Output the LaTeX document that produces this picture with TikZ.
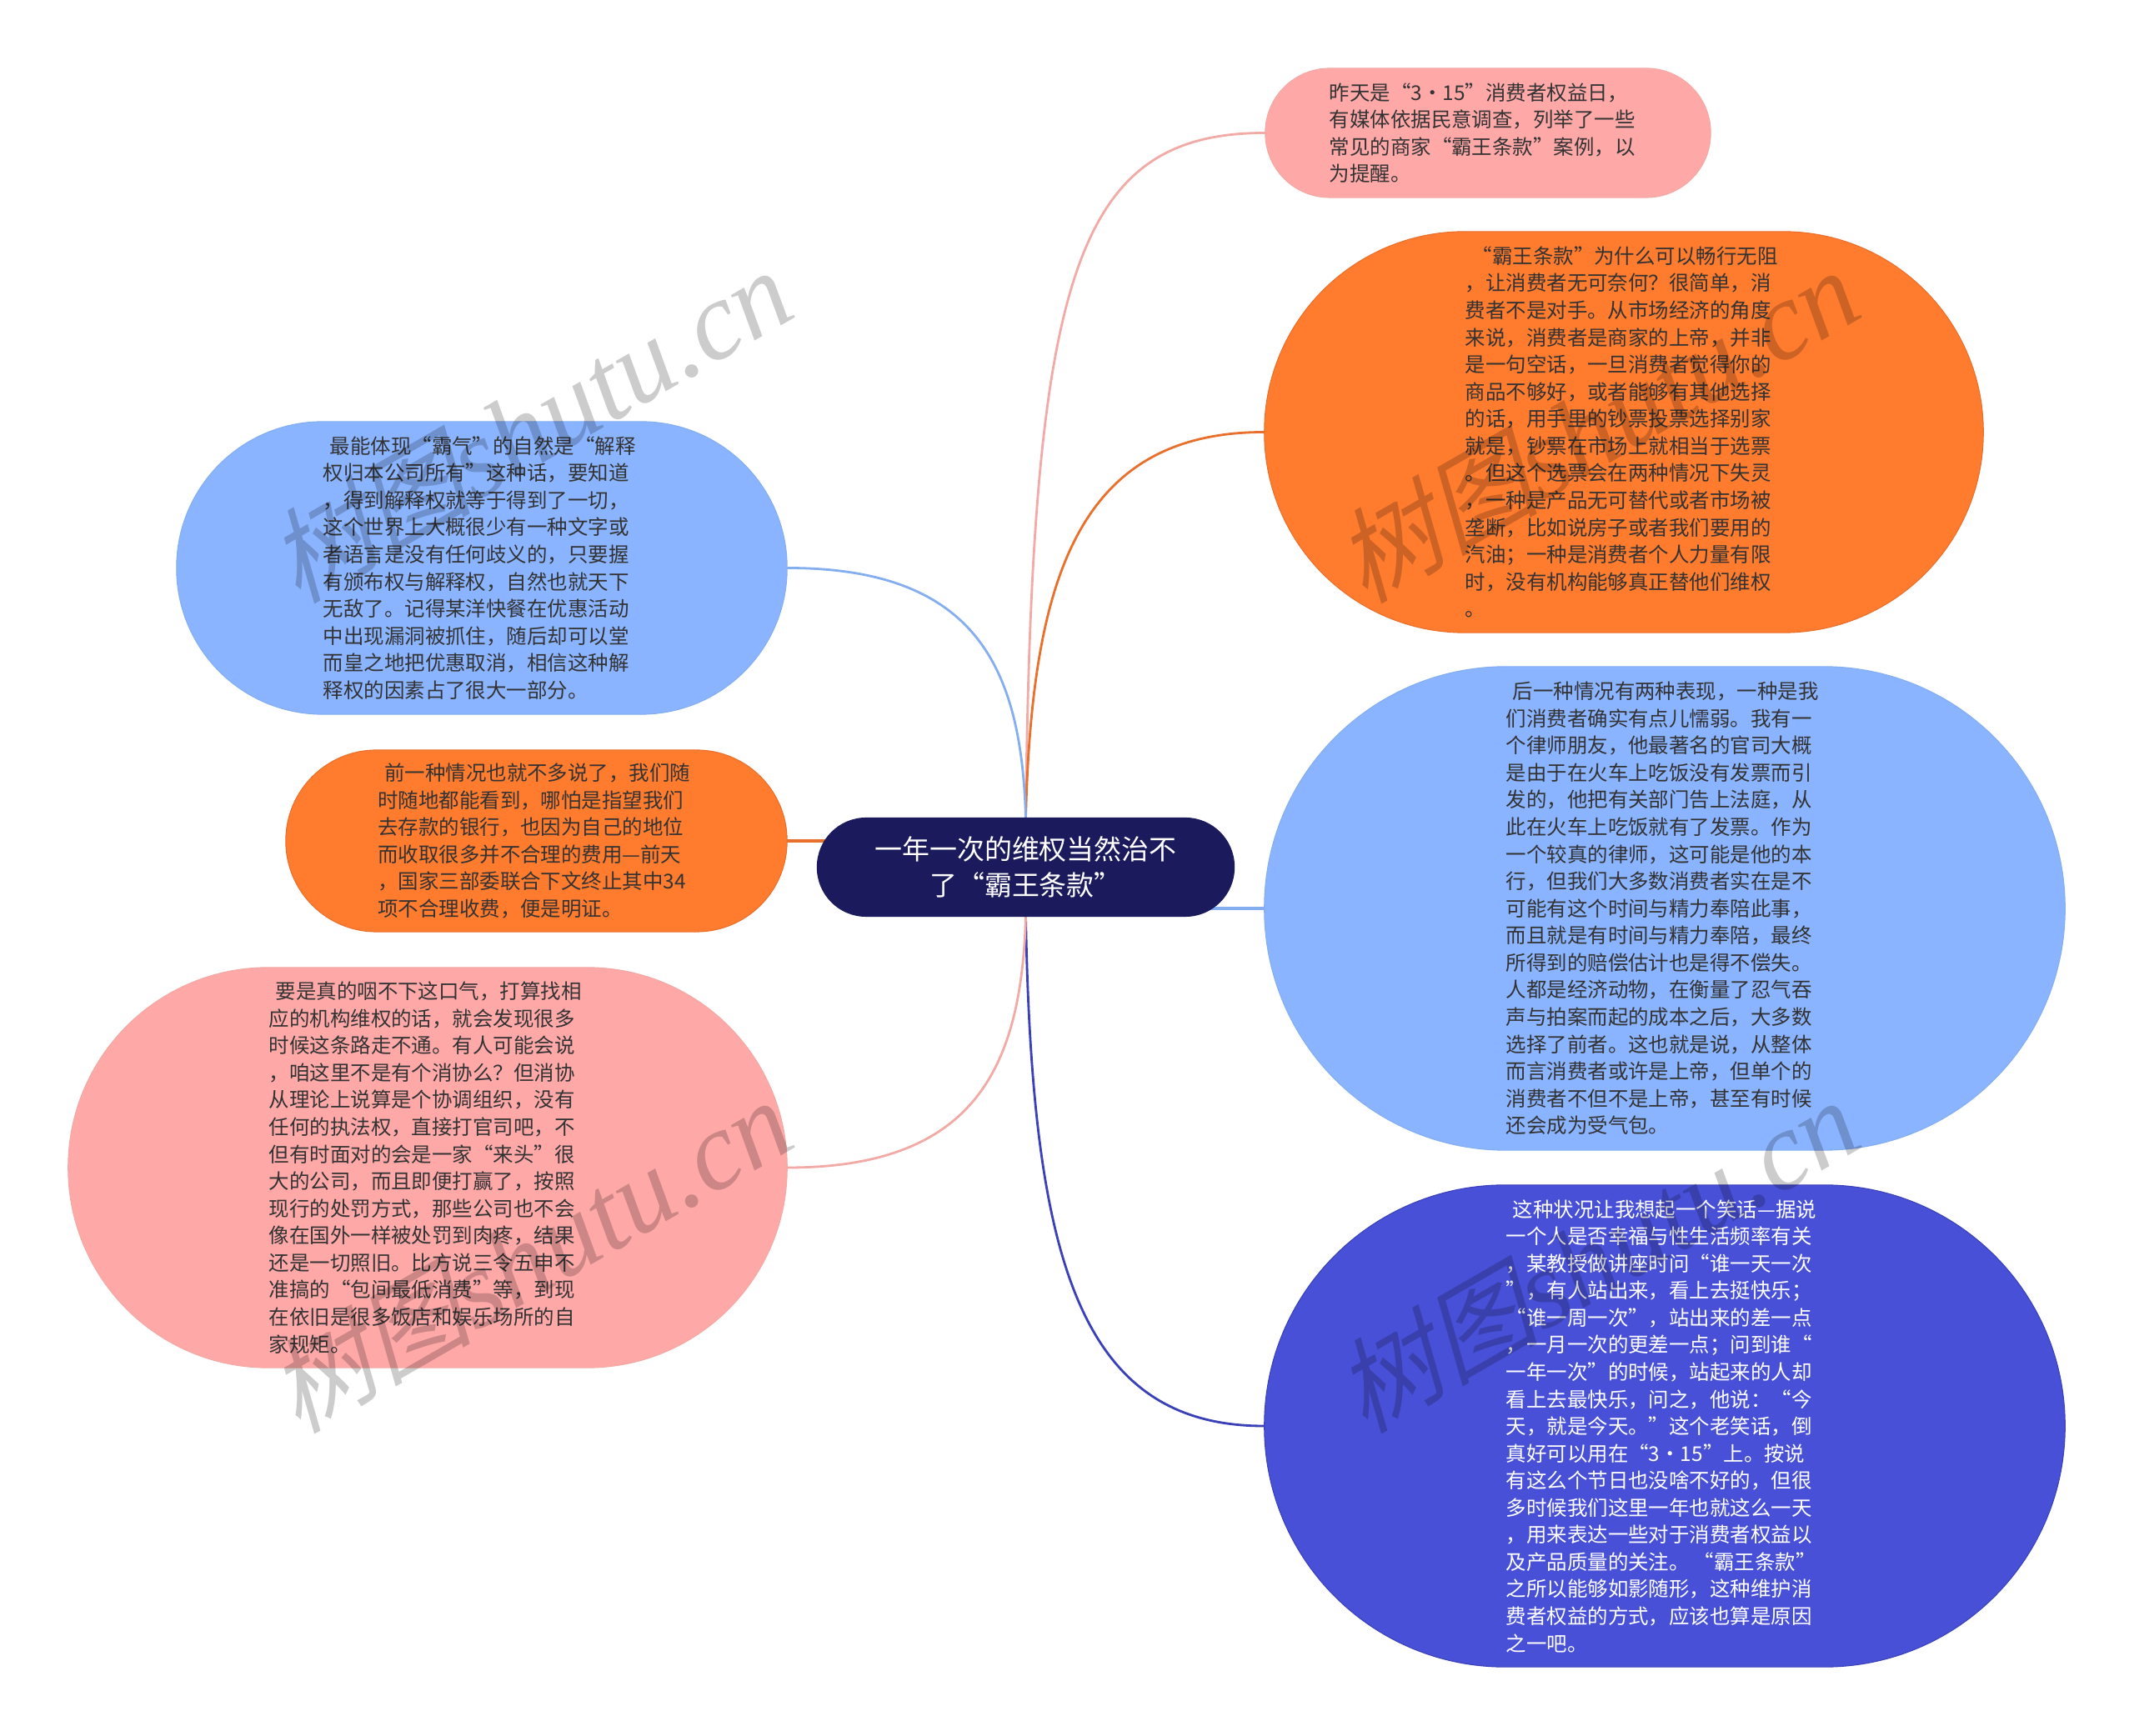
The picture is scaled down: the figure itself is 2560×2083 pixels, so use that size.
\documentclass[tikz,border=0pt]{standalone}
\usepackage{fontspec}
\setmainfont{Noto Sans CJK SC}
\newfontfamily\markcjk[AutoFakeSlant=0.25]{Noto Sans CJK SC}
\newfontfamily\marklatin{Liberation Serif}
\usetikzlibrary{backgrounds}

\definecolor{rosefill}{HTML}{FFA8A8}
\definecolor{orangefill}{HTML}{FF7B2E}
\definecolor{skyfill}{HTML}{8AB4FF}
\definecolor{indigofill}{HTML}{4850D8}
\definecolor{rootfill}{HTML}{1A1A5C}
\definecolor{roseline}{HTML}{F2AAA6}
\definecolor{orangeline}{HTML}{E8702C}
\definecolor{skyline}{HTML}{84AEF0}
\definecolor{indigoline}{HTML}{3A40B8}
\definecolor{bodytext}{HTML}{333333}

\newcommand{\ind}{\hspace*{0.08cm}}

\begin{document}
\begin{tikzpicture}[x=0.01cm, y=-0.01cm,
        pill/.style 2 args={rectangle, inner sep=0pt, minimum width=#1, minimum height=#2,
            rounded corners=#2/2-0.1pt},
        topic/.style={text width=3.80cm, align=left, text=bodytext,
            font=\fontsize{6.95}{9.26}\selectfont},
        root/.style={text width=3.82cm, align=center, fill=rootfill, text=white,
            font=\fontsize{9.37}{12.07}\selectfont},
        link/.style={line width=0.8pt, line cap=round},
        mark_text/.style={text=black, opacity=0.2, rotate=30, font=\fontsize{35}{35}\selectfont}
    ]
    \useasboundingbox (0,0) rectangle (2560,2083);

    % --- ROOT ---
    \node[root, pill={5.01cm}{1.19cm}] (root) at (1230.5, 1040.5) {一年一次的维权当然治不\\了“霸王条款”};

    % --- RIGHT ---
    \node[topic, pill={5.34cm}{1.55cm}, fill=rosefill, draw=roseline, line width=0.3pt] (warning) at (1785, 159.5) {
        昨天是“3·15”消费者权益日，\\
        有媒体依据民意调查，列举了一些\\
        常见的商家“霸王条款”案例，以\\
        为提醒。};
    \node[topic, pill={8.62cm}{4.81cm}, fill=orangefill, draw=orangeline, line width=0.3pt] (why) at (1948, 518.5) {
        \ind“霸王条款”为什么可以畅行无阻\\
        ，让消费者无可奈何？很简单，消\\
        费者不是对手。从市场经济的角度\\
        来说，消费者是商家的上帝，并非\\
        是一句空话，一旦消费者觉得你的\\
        商品不够好，或者能够有其他选择\\
        的话，用手里的钞票投票选择别家\\
        就是，钞票在市场上就相当于选票\\
        。但这个选票会在两种情况下失灵\\
        ，一种是产品无可替代或者市场被\\
        垄断，比如说房子或者我们要用的\\
        汽油；一种是消费者个人力量有限\\
        时，没有机构能够真正替他们维权\\
        。};
    \node[topic, pill={9.60cm}{5.80cm}, fill=skyfill, draw=skyline, line width=0.3pt] (latter) at (1997, 1090) {
        \ind 后一种情况有两种表现，一种是我\\
        们消费者确实有点儿懦弱。我有一\\
        个律师朋友，他最著名的官司大概\\
        是由于在火车上吃饭没有发票而引\\
        发的，他把有关部门告上法庭，从\\
        此在火车上吃饭就有了发票。作为\\
        一个较真的律师，这可能是他的本\\
        行，但我们大多数消费者实在是不\\
        可能有这个时间与精力奉陪此事，\\
        而且就是有时间与精力奉陪，最终\\
        所得到的赔偿估计也是得不偿失。\\
        人都是经济动物，在衡量了忍气吞\\
        声与拍案而起的成本之后，大多数\\
        选择了前者。这也就是说，从整体\\
        而言消费者或许是上帝，但单个的\\
        消费者不但不是上帝，甚至有时候\\
        还会成为受气包。};
    \node[topic, pill={9.60cm}{5.78cm}, fill=indigofill, draw=indigoline, line width=0.3pt, text=white] (joke) at (1997, 1711) {
        \ind 这种状况让我想起一个笑话—据说\\
        一个人是否幸福与性生活频率有关\\
        ，某教授做讲座时问“谁一天一次\\
        ”，有人站出来，看上去挺快乐；\\
        “谁一周一次”，站出来的差一点\\
        ，一月一次的更差一点；问到谁“\\
        一年一次”的时候，站起来的人却\\
        看上去最快乐，问之，他说：“今\\
        天，就是今天。”这个老笑话，倒\\
        真好可以用在“3·15”上。按说\\
        有这么个节日也没啥不好的，但很\\
        多时候我们这里一年也就这么一天\\
        ，用来表达一些对于消费者权益以\\
        及产品质量的关注。\hspace{0.05cm}“霸王条款”\\
        之所以能够如影随形，这种维护消\\
        费者权益的方式，应该也算是原因\\
        之一吧。};

    % --- LEFT ---
    \node[topic, pill={7.32cm}{3.51cm}, fill=skyfill, draw=skyline, line width=0.3pt] (power) at (578, 681.5) {
        \ind 最能体现“霸气”的自然是“解释\\
        权归本公司所有”这种话，要知道\\
        ，得到解释权就等于得到了一切，\\
        这个世界上大概很少有一种文字或\\
        者语言是没有任何歧义的，只要握\\
        有颁布权与解释权，自然也就天下\\
        无敌了。记得某洋快餐在优惠活动\\
        中出现漏洞被抓住，随后却可以堂\\
        而皇之地把优惠取消，相信这种解\\
        释权的因素占了很大一部分。};
    \node[topic, pill={6.01cm}{2.18cm}, fill=orangefill, draw=orangeline, line width=0.3pt] (former) at (643.5, 1009) {
        \ind 前一种情况也就不多说了，我们随\\
        时随地都能看到，哪怕是指望我们\\
        去存款的银行，也因为自己的地位\\
        而收取很多并不合理的费用—前天\\
        ，国家三部委联合下文终止其中34\\
        项不合理收费，便是明证。};
    \node[topic, pill={8.62cm}{4.80cm}, fill=rosefill, draw=roseline, line width=0.3pt] (court) at (513, 1401) {
        \ind 要是真的咽不下这口气，打算找相\\
        应的机构维权的话，就会发现很多\\
        时候这条路走不通。有人可能会说\\
        ，咱这里不是有个消协么？但消协\\
        从理论上说算是个协调组织，没有\\
        任何的执法权，直接打官司吧，不\\
        但有时面对的会是一家“来头”很\\
        大的公司，而且即便打赢了，按照\\
        现行的处罚方式，那些公司也不会\\
        像在国外一样被处罚到肉疼，结果\\
        还是一切照旧。比方说三令五申不\\
        准搞的“包间最低消费”等，到现\\
        在依旧是很多饭店和娱乐场所的自\\
        家规矩。};

    % --- CONNECTORS ---
    \begin{scope}[on background layer]
        \draw[link, roseline] (root.north) .. controls (1238, 330) and (1290, 159.5) .. (warning.west);
        \draw[link, orangeline] (root.north) .. controls (1238, 700) and (1290, 518.5) .. (why.west);
        \draw[link, skyline, line width=1pt] (latter.west) -- (latter.west -| root.center);
        \draw[link, indigoline] (root.south) .. controls (1238, 1500) and (1290, 1711) .. (joke.west);
        \draw[link, skyline] (root.north) .. controls (1225, 800) and (1170, 681.5) .. (power.east);
        \draw[link, orangeline, line width=1pt] (former.east) -- (former.east -| root.center);
        \draw[link, roseline] (root.south) .. controls (1225, 1280) and (1170, 1401) .. (court.east);
    \end{scope}

    % --- WATERMARK ---
    \foreach \wx/\wy/\wname in {635/511/marka, 1915/511/markb, 635/1507/markc, 1915/1507/markd} {
        \node[mark_text] (\wname) at (\wx, \wy) {{\markcjk\itshape 树图}{\marklatin\itshape\fontsize{38}{38}\selectfont shutu.cn}};
    }
\end{tikzpicture}
\end{document}
